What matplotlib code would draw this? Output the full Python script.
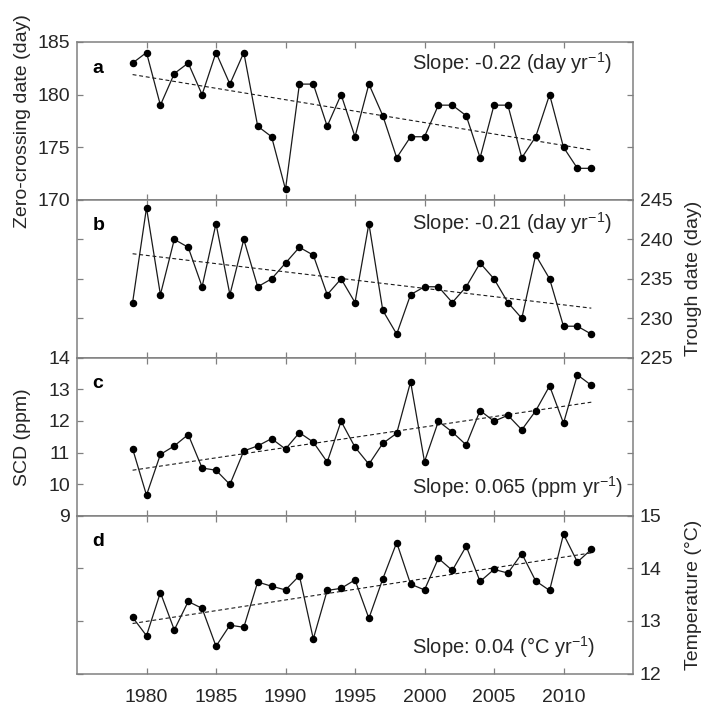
import numpy as np
import matplotlib
matplotlib.use('Agg')
import matplotlib.pyplot as plt

plt.rcParams['font.family'] = ['Liberation Sans', 'DejaVu Sans']
plt.rcParams['mathtext.fontset'] = 'custom'
plt.rcParams['mathtext.rm'] = 'Liberation Sans'
plt.rcParams['mathtext.default'] = 'regular'

years = np.arange(1979, 2013)

# a: zero-crossing date (day)
zero_cross = [183, 184, 179, 182, 183, 180, 184, 181, 184, 177, 176, 171,
              181, 181, 177, 180, 176, 181, 178, 174, 176, 176, 179, 179,
              178, 174, 179, 179, 174, 176, 180, 175, 173, 173]
# b: trough date (day)
trough = [232, 244, 233, 240, 239, 234, 242, 233, 240, 234, 235, 237,
          239, 238, 233, 235, 232, 242, 231, 228, 233, 234, 234, 232,
          234, 237, 235, 232, 230, 238, 235, 229, 229, 228]
# c: SCD (ppm)
scd = [11.12, 9.65, 10.94, 11.21, 11.57, 10.51, 10.44, 9.99, 11.05, 11.21,
       11.44, 11.11, 11.63, 11.33, 10.70, 11.99, 11.17, 10.63, 11.29, 11.61,
       13.24, 10.71, 11.99, 11.65, 11.24, 12.33, 11.99, 12.18, 11.72, 12.32,
       13.11, 11.93, 13.46, 13.13]
# d: temperature (°C)
temp = [13.07, 12.72, 13.54, 12.83, 13.37, 13.24, 12.52, 12.92, 12.88, 13.74,
        13.66, 13.59, 13.86, 12.66, 13.58, 13.62, 13.78, 13.05, 13.80, 14.49,
        13.70, 13.59, 14.19, 13.96, 14.42, 13.75, 13.98, 13.91, 14.28, 13.76,
        13.58, 14.65, 14.12, 14.36]

panels = [
    dict(y=zero_cross, letter='a', ylim=(170, 185), yticks=[170, 175, 180, 185],
         side='left', label='Zero-crossing date (day)',
         slope='Slope: -0.22 (day yr$^{-1}$)', spos=0.865),
    dict(y=trough, letter='b', ylim=(225, 245), yticks=[225, 230, 235, 240, 245],
         side='right', label='Trough date (day)',
         slope='Slope: -0.21 (day yr$^{-1}$)', spos=0.855),
    dict(y=scd, letter='c', ylim=(9, 14), yticks=[9, 10, 11, 12, 13, 14],
         side='left', label='SCD (ppm)',
         slope='Slope: 0.065 (ppm yr$^{-1}$)', spos=0.18),
    dict(y=temp, letter='d', ylim=(12, 15), yticks=[12, 13, 14, 15],
         side='right', label='Temperature (°C)',
         slope='Slope: 0.04 (°C yr$^{-1}$)', spos=0.17),
]

gray = '#808080'
txt = '#262626'
fs = 14

fig = plt.figure(figsize=(7.04, 7.11), dpi=100)
left, right = 77 / 704, 633 / 704
top, bottom = 1 - 42 / 711, 1 - 673.6 / 711
h = (top - bottom) / 4

for i, p in enumerate(panels):
    ax = fig.add_axes([left, top - (i + 1) * h, right - left, h])
    y = np.array(p['y'], dtype=float)
    ax.plot(years, y, '-', color='#1a1a1a', lw=0.9, marker='o', ms=4.4,
            mfc='black', mec='black', zorder=3)
    # linear trend
    k, b0 = np.polyfit(years, y, 1)
    ax.plot(years, k * years + b0, '--', color='#1a1a1a', lw=0.8, dashes=(3.5, 2.5))

    ax.set_xlim(1975, 2015)
    ax.set_ylim(*p['ylim'])
    ax.set_xticks(np.arange(1980, 2011, 5))
    ax.set_yticks(p['yticks'])
    for s in ax.spines.values():
        s.set_color(gray)
        s.set_linewidth(1.1)
    ax.tick_params(axis='both', direction='in', length=4, width=0.9, color=gray,
                   labelcolor=txt, labelsize=fs, pad=5,
                   top=True, bottom=True, left=True, right=True)
    ax.tick_params(axis='x', labelbottom=(i == 3), pad=11)
    if p['side'] == 'left':
        ax.tick_params(axis='y', labelleft=True, labelright=False)
    else:
        ax.tick_params(axis='y', labelleft=False, labelright=True)

    ax.text(0.028, 0.835, p['letter'], transform=ax.transAxes, fontsize=14,
            fontweight='bold', color='black', va='center', ha='left')
    ax.text(0.6025, p['spos'], p['slope'], transform=ax.transAxes, fontsize=14.5,
            color=txt, va='center', ha='left')

    yc = 1 - (42 + (i + 0.5) * 157.9) / 711
    if p['side'] == 'left':
        fig.text(23 / 704, yc, p['label'], rotation=90, fontsize=fs, color=txt,
                 ha='center', va='center')
    else:
        fig.text(693 / 704, yc, p['label'], rotation=90, fontsize=fs, color=txt,
                 ha='center', va='center')

fig.savefig('out.png', dpi=100)
